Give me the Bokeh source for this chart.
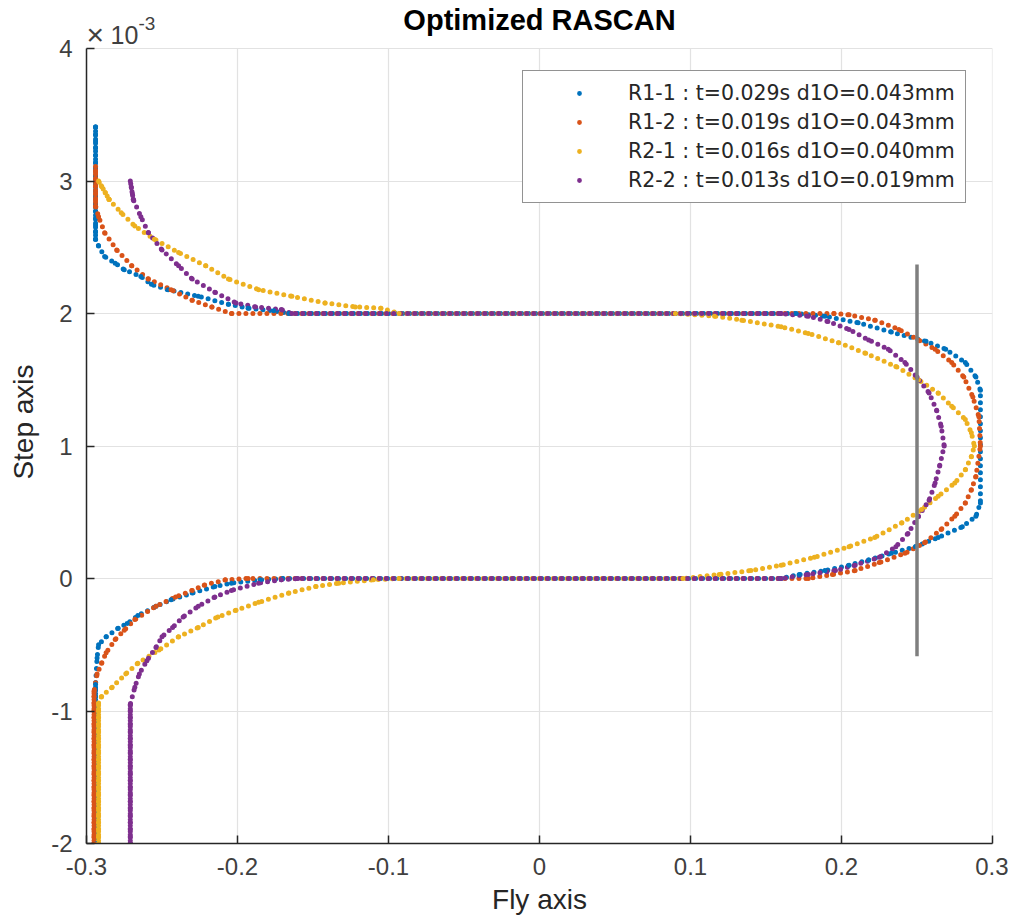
import numpy as np
from bokeh.plotting import figure
from bokeh.models import Range1d, FixedTicker, Label, Legend, LegendItem
from bokeh.embed import file_html
from bokeh.resources import INLINE

# ---------------- data (Fly axis in mm, Step axis in units of 1e-3) ----------------
series_names = [
    "R1-1 : t=0.029s d1O=0.043mm",
    "R1-2 : t=0.019s d1O=0.043mm",
    "R2-1 : t=0.016s d1O=0.040mm",
    "R2-2 : t=0.013s d1O=0.019mm",
]
series_colors = ["#0072BD", "#D95319", "#EDB120", "#7E2F8E"]

r11_x = [-0.294, -0.294, -0.293, -0.292, -0.287, -0.279, -0.273, -0.266, -0.254, -0.244, -0.230, -0.215, -0.204, -0.185, -0.170,
         0.160, 0.172, 0.189, 0.205, 0.218, 0.233, 0.249, 0.264, 0.280, 0.289, 0.292, 0.292, 0.289, 0.282, 0.269, 0.256, 0.233, 0.211, 0.189, 0.170,
         -0.166, -0.176, -0.193, -0.206, -0.226, -0.246, -0.257, -0.264, -0.275, -0.281, -0.288, -0.292, -0.294, -0.294]
r11_y = [-2.00, -0.80, -0.60, -0.50, -0.44, -0.375, -0.34, -0.28, -0.21, -0.16, -0.11, -0.06, -0.035, -0.01, 0.00,
         0.00, 0.03, 0.06, 0.10, 0.14, 0.19, 0.24, 0.31, 0.39, 0.47, 0.57, 1.42, 1.52, 1.63, 1.73, 1.79, 1.86, 1.93, 1.98, 2.00,
         2.00, 2.02, 2.04, 2.07, 2.13, 2.18, 2.22, 2.28, 2.33, 2.38, 2.43, 2.51, 2.56, 3.41]

r12_x = [-0.295, -0.295, -0.293, -0.290, -0.287, -0.281, -0.275, -0.268, -0.254, -0.241, -0.230, -0.222, -0.208, -0.193,
         0.178, 0.194, 0.209, 0.225, 0.242, 0.255, 0.266, 0.275, 0.282, 0.286, 0.289, 0.292, 0.291, 0.287, 0.281, 0.273, 0.262, 0.251, 0.238, 0.222, 0.205, 0.195,
         -0.204, -0.217, -0.230, -0.244, -0.259, -0.270, -0.280, -0.288, -0.292, -0.294, -0.294]
r12_y = [-2.00, -0.85, -0.72, -0.64, -0.56, -0.46, -0.39, -0.31, -0.21, -0.14, -0.09, -0.05, -0.01, 0.00,
         0.00, 0.03, 0.06, 0.12, 0.19, 0.27, 0.37, 0.47, 0.57, 0.67, 0.77, 1.00, 1.22, 1.37, 1.52, 1.63, 1.73, 1.80, 1.88, 1.95, 1.99, 2.00,
         2.00, 2.05, 2.10, 2.18, 2.26, 2.36, 2.48, 2.61, 2.73, 2.81, 3.11]

r21_x = [-0.292, -0.292, -0.290, -0.283, -0.274, -0.266, -0.252, -0.239, -0.226, -0.213, -0.201, -0.186, -0.166, -0.148, -0.133, -0.110, -0.093,
         0.095, 0.119, 0.140, 0.160, 0.182, 0.205, 0.222, 0.240, 0.253, 0.264, 0.275, 0.282, 0.286, 0.288, 0.286, 0.282, 0.273, 0.264, 0.251, 0.236, 0.216, 0.198, 0.178, 0.160, 0.134, 0.116, 0.090,
         -0.093, -0.105, -0.122, -0.142, -0.164, -0.186, -0.206, -0.221, -0.239, -0.255, -0.268, -0.277, -0.285, -0.292]
r21_y = [-2.00, -0.94, -0.89, -0.82, -0.72, -0.64, -0.54, -0.44, -0.37, -0.29, -0.24, -0.18, -0.11, -0.06, -0.035, -0.01, 0.00,
         0.00, 0.03, 0.06, 0.10, 0.16, 0.24, 0.31, 0.42, 0.52, 0.62, 0.72, 0.82, 0.92, 1.00, 1.10, 1.20, 1.30, 1.40, 1.50, 1.60, 1.70, 1.78, 1.85, 1.90, 1.95, 1.98, 2.00,
         2.00, 2.04, 2.05, 2.08, 2.13, 2.18, 2.26, 2.36, 2.46, 2.56, 2.66, 2.76, 2.86, 3.00]

r22_x = [-0.271, -0.271, -0.268, -0.265, -0.260, -0.254, -0.250, -0.243, -0.236, -0.226, -0.215, -0.204, -0.186, -0.171, -0.160,
         0.160, 0.178, 0.196, 0.209, 0.225, 0.236, 0.244, 0.251, 0.258, 0.262, 0.265, 0.268, 0.266, 0.263, 0.258, 0.250, 0.242, 0.231, 0.218, 0.205, 0.191, 0.178, 0.160,
         -0.164, -0.171, -0.188, -0.201, -0.215, -0.230, -0.239, -0.250, -0.259, -0.264, -0.269, -0.271]
r22_y = [-2.00, -0.95, -0.82, -0.72, -0.62, -0.52, -0.44, -0.37, -0.29, -0.21, -0.14, -0.09, -0.035, -0.01, 0.00,
         0.00, 0.03, 0.06, 0.10, 0.16, 0.24, 0.34, 0.47, 0.59, 0.72, 0.85, 1.00, 1.15, 1.27, 1.40, 1.52, 1.63, 1.73, 1.80, 1.88, 1.94, 1.98, 2.00,
         2.00, 2.03, 2.05, 2.08, 2.16, 2.26, 2.36, 2.48, 2.61, 2.73, 2.86, 3.00]

series_x = [r11_x, r12_x, r21_x, r22_x]
series_y = [r11_y, r12_y, r21_y, r22_y]

x_ticks = [-0.3, -0.2, -0.1, 0.0, 0.1, 0.2, 0.3]
x_tick_labels = ["-0.3", "-0.2", "-0.1", "0", "0.1", "0.2", "0.3"]
y_ticks = [-2, -1, 0, 1, 2, 3, 4]
y_tick_labels = ["-2", "-1", "0", "1", "2", "3", "4"]

marker_line_x = 0.25
marker_line_y = [-0.586, 2.37]

# ---------------- figure ----------------
FONT = "Liberation Sans"
FRAME_H = 843          # frame spans from the canvas top down to the x axis
PX_PER_UNIT = 795 / 6  # pixel height of one y unit
y_top = y_ticks[-1] + 48 / PX_PER_UNIT   # room above the axes for title and exponent

p = figure(width=1008, height=920, x_range=Range1d(-0.3, 0.3), y_range=Range1d(-2, y_top),
           output_backend="svg", toolbar_location=None, title=None,
           min_border_left=86, min_border_right=16, min_border_top=0, min_border_bottom=920 - FRAME_H)
p.outline_line_color = None
p.background_fill_color = "white"

# horizontal grid from Bokeh, vertical grid drawn only up to the top tick
p.ygrid.ticker = FixedTicker(ticks=y_ticks)
p.ygrid.grid_line_color = "#e2e2e2"
p.ygrid.grid_line_width = 1.2
p.xgrid.grid_line_color = None
p.segment(x0=x_ticks, y0=[y_ticks[0]] * len(x_ticks), x1=x_ticks, y1=[y_ticks[-1]] * len(x_ticks),
          line_color="#e2e2e2", line_width=1.2, level="underlay")

p.xaxis.ticker = FixedTicker(ticks=x_ticks)
p.yaxis.ticker = FixedTicker(ticks=y_ticks)
p.yaxis.bounds = (y_ticks[0], y_ticks[-1])
p.xaxis.major_label_overrides = {float(t): l for t, l in zip(x_ticks, x_tick_labels)}
p.yaxis.major_label_overrides = {float(t): l for t, l in zip(y_ticks, y_tick_labels)}
for ax in (p.xaxis[0], p.yaxis[0]):
    ax.axis_line_color = "#262626"
    ax.axis_line_width = 1.5
    ax.major_tick_line_color = "#262626"
    ax.major_tick_line_width = 1.5
    ax.major_tick_in = 8
    ax.major_tick_out = 0
    ax.minor_tick_line_color = None
    ax.major_label_text_font = FONT
    ax.major_label_text_font_size = "24px"
    ax.major_label_text_color = "#404040"
    ax.axis_label_text_font = FONT
    ax.axis_label_text_font_size = "28px"
    ax.axis_label_text_font_style = "normal"
    ax.axis_label_text_color = "#262626"
p.xaxis.axis_label = "Fly axis"
p.yaxis.axis_label = "Step axis"
p.xaxis.major_label_standoff = 14
p.xaxis.axis_label_standoff = 6
p.yaxis.major_label_standoff = 14
p.yaxis.axis_label_standoff = 9

for xs, ys, c in zip(series_x, series_y, series_colors):
    p.line(xs, ys, line_color=c, line_width=5, line_dash="0 7", line_cap="round", line_join="round")
    # slow, nearly vertical end runs: samples crowd together
    p.line(xs[:2], ys[:2], line_color=c, line_width=5, line_dash="0 3", line_cap="round")
    p.line(xs[-2:], ys[-2:], line_color=c, line_width=5, line_dash="0 4", line_cap="round")
dots = [p.scatter(xs, ys, size=5, marker="circle", fill_color=c, line_color=None)
        for xs, ys, c in zip(series_x, series_y, series_colors)]

p.segment(x0=[marker_line_x], y0=[marker_line_y[0]], x1=[marker_line_x], y1=[marker_line_y[1]],
          line_color="#7f7f7f", line_width=3.5)

legend = Legend(items=[LegendItem(label=n, renderers=[r]) for n, r in zip(series_names, dots)],
                location=(436, 640), margin=0, padding=10, spacing=5,
                glyph_width=92, glyph_height=12, label_height=22, label_standoff=3,
                label_text_font="DejaVu Sans", label_text_font_size="20.5px", label_text_color="#262626",
                label_text_baseline="middle",
                border_line_color="#262626", border_line_width=1.3, background_fill_color="white",
                background_fill_alpha=1.0)
p.add_layout(legend)

# texts above the axes (inside the extended frame)
p.add_layout(Label(x=0, y=y_ticks[-1], text="Optimized RASCAN", text_align="center", text_baseline="alphabetic",
                   y_offset=29, text_font=FONT, text_font_size="29px", text_font_style="bold", text_color="black"))
p.add_layout(Label(x=-0.3, y=y_ticks[-1], text="×", text_align="left", text_baseline="alphabetic",
                   x_offset=0, y_offset=14, text_font=FONT, text_font_size="30px", text_color="#404040"))
p.add_layout(Label(x=-0.3, y=y_ticks[-1], text="10", text_align="left", text_baseline="alphabetic",
                   x_offset=24, y_offset=14, text_font=FONT, text_font_size="25px", text_color="#404040"))
p.add_layout(Label(x=-0.3, y=y_ticks[-1], text="-3", text_align="left", text_baseline="alphabetic",
                   x_offset=52, y_offset=25, text_font=FONT, text_font_size="19px", text_color="#404040"))

open("out.html", "w").write(file_html(p, INLINE))
